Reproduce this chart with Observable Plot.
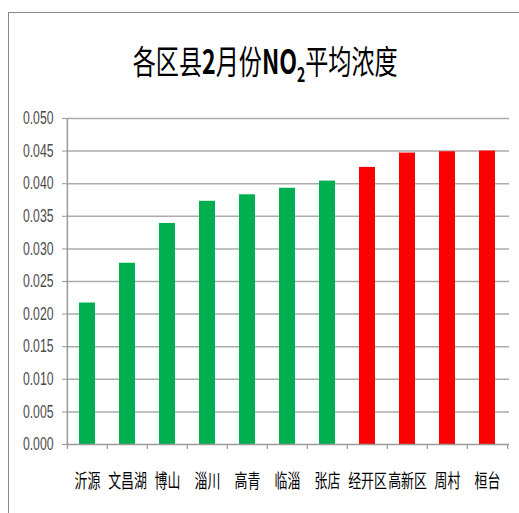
<!DOCTYPE html>
<html><head><meta charset="utf-8">
<script src="https://cdn.jsdelivr.net/npm/d3@7"></script>
<script src="https://cdn.jsdelivr.net/npm/@observablehq/plot@0.6"></script>
<style>
body{margin:0;background:#fff;}
#frame{position:absolute;left:8px;top:12px;width:530px;height:520px;border-left:1.5px solid #8a8a8a;border-top:1.5px solid #8a8a8a;}
#title{position:absolute;left:0;top:0;width:530px;height:100px;text-align:center;}
#title span{display:inline-block;margin-top:42px;font-family:"Noto Sans CJK SC";font-size:33px;line-height:36px;color:#000;transform:scaleX(0.7);transform-origin:center;white-space:nowrap;}
#chart{position:absolute;left:0;top:100px;}
</style></head><body>
<div id="frame"></div>
<div id="title"><span>各区县<b>2</b>月份<b>NO<sub style="font-size:20px">2</sub></b>平均浓度</span></div>
<div id="chart"></div>
<script>
const categories = ["沂源","文昌湖","博山","淄川","高青","临淄","张店","经开区","高新区","周村","桓台"];
const values = [0.0217,0.0278,0.0339,0.0373,0.0383,0.0393,0.0404,0.0425,0.0447,0.0449,0.0450];
const barColors = ["#00B050","#00B050","#00B050","#00B050","#00B050","#00B050","#00B050","#FF0000","#FF0000","#FF0000","#FF0000"];
const yTicks = [0,0.005,0.010,0.015,0.020,0.025,0.030,0.035,0.040,0.045,0.050];

const data = categories.map((c,i)=>({name:c, value:values[i], color:barColors[i]}));
const W=519, H=413, ML=66, MR=10, MT=18, MB=69;
const step = (W-ML-MR)/categories.length;

const chart = Plot.plot({
  width: W, height: H, marginLeft: ML, marginRight: MR, marginTop: MT, marginBottom: MB,
  style: {background:"transparent", overflow:"visible"},
  x: {domain: categories, paddingInner: 0.59, paddingOuter: 0.295, label: null},
  y: {domain: [0,0.05], label: null},
  marks: [
    Plot.gridY(yTicks.slice(1), {stroke:"#ababab", strokeOpacity:1, strokeWidth:1.5}),
    Plot.barY(data, {x:"name", y:"value", fill:"color"}),
    Plot.ruleY([0], {stroke:"#9a9a9a", strokeWidth:1.5}),
    Plot.ruleX([categories[0]], {dx:-step/2, y1:0, y2:0.05, stroke:"#9a9a9a", strokeWidth:1.5}),
    Plot.ruleX(categories, {dx:-step/2, y1:0, y2:0, insetBottom:-5, stroke:"#9a9a9a", strokeWidth:1.2}),
    Plot.ruleX([categories[categories.length-1]], {dx:step/2, y1:0, y2:0, insetBottom:-5, stroke:"#9a9a9a", strokeWidth:1.2}),
    Plot.axisY({ticks: yTicks, tickFormat: d3.format(".3f"), tickSize:4, tickPadding:9, stroke:"#9a9a9a", fontSize:18, fill:"#4a4a4a", label:null, fontFamily:"Liberation Sans"}),
    Plot.axisX({tickSize:0, tickPadding:30, fontSize:19, fill:"#000", label:null, fontFamily:"Noto Sans CJK SC"})
  ]
});
document.getElementById("chart").appendChild(chart);
const svg = d3.select(chart);
svg.selectAll('g[aria-label="y-axis tick label"] text').each(function(){
  const t = this.getAttribute("transform")||"";
  this.setAttribute("transform", t+" scale(0.68,1)");
});
svg.selectAll('g[aria-label="x-axis tick label"] text').each(function(){
  const t = this.getAttribute("transform")||"";
  this.setAttribute("transform", t+" scale(0.68,1)");
});
</script>
</body></html>
